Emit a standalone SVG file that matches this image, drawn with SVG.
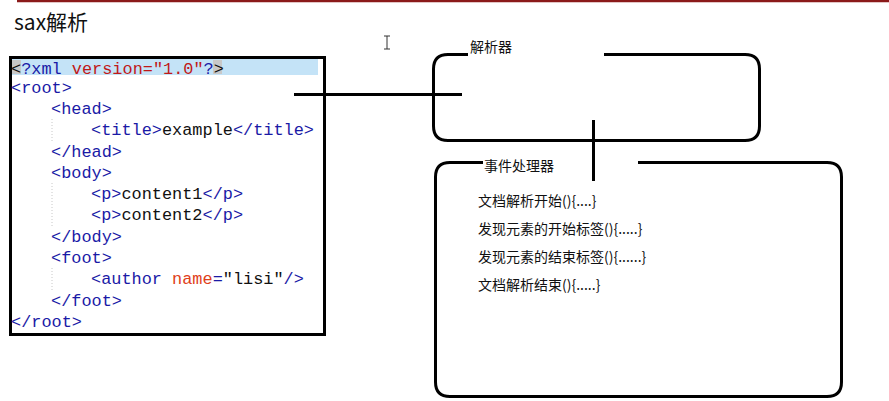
<svg xmlns="http://www.w3.org/2000/svg" width="889" height="401" viewBox="0 0 889 401">
<style>
.code{font-family:"Liberation Mono","DejaVu Sans Mono",monospace;font-size:16.9px;fill:#1a1aa6;white-space:pre}
.t{fill:#1a1aa6}.x{fill:#111}.a{fill:#e0401a}.v{fill:#c01818}
.lbl{font-family:"Noto Sans CJK SC","Noto Sans",sans-serif;font-size:14px;fill:#111}
.box{fill:none;stroke:#000;stroke-width:3}
.guide{stroke:#c8c8c8;stroke-width:1;stroke-dasharray:1 2}
</style>
<rect width="889" height="401" fill="#fff"/>
<line x1="17" y1="1" x2="889" y2="1" stroke="#8b1a1a" stroke-width="2.5"/>
<text x="14" y="30" font-family="'Noto Sans CJK SC','Noto Sans',sans-serif" font-size="21" fill="#111">sax解析</text>
<path d="M384,36 h6 M387,36 v13 M384,49 h6" stroke="#333" stroke-width="1" fill="none"/>
<g id="xml">
<rect x="10.5" y="57.5" width="314" height="277" class="box"/>
<rect x="12" y="59" width="306" height="16" fill="#c4e3f7"/>
<rect x="12" y="60" width="9" height="14" fill="#c8c8c8"/>
<rect x="213" y="60" width="9" height="14" fill="#c8c8c8"/>
<line x1="52" y1="119" x2="52" y2="142" class="guide"/>
<line x1="52" y1="183" x2="52" y2="227" class="guide"/>
<line x1="52" y1="268" x2="52" y2="291" class="guide"/>
<text class="code" x="11" y="74"><tspan class="x">&lt;</tspan>?xml <tspan class="v">version="1.0"</tspan>?<tspan class="x">&gt;</tspan></text>
<text class="code" x="11" y="93">&lt;root&gt;</text>
<text class="code" x="51" y="114">&lt;head&gt;</text>
<text class="code" x="91" y="135">&lt;title&gt;<tspan class="x">example</tspan>&lt;/title&gt;</text>
<text class="code" x="51" y="157">&lt;/head&gt;</text>
<text class="code" x="51" y="178">&lt;body&gt;</text>
<text class="code" x="91" y="199">&lt;p&gt;<tspan class="x">content1</tspan>&lt;/p&gt;</text>
<text class="code" x="91" y="220">&lt;p&gt;<tspan class="x">content2</tspan>&lt;/p&gt;</text>
<text class="code" x="51" y="242">&lt;/body&gt;</text>
<text class="code" x="51" y="263">&lt;foot&gt;</text>
<text class="code" x="91" y="284">&lt;author <tspan class="a">name</tspan>=<tspan class="x">"lisi"</tspan>/&gt;</text>
<text class="code" x="51" y="306">&lt;/foot&gt;</text>
<text class="code" x="11" y="327">&lt;/root&gt;</text>
</g>
<g id="parser">
<path class="box" d="M468,54.5 H448 Q433.5,54.5 433.5,69 V126 Q433.5,140.5 448,140.5 H745 Q759.5,140.5 759.5,126 V69 Q759.5,54.5 745,54.5 H604"/>
<text class="lbl" x="470" y="52">解析器</text>
</g>
<g id="handler">
<path class="box" d="M483,162.5 H450 Q435.5,162.5 435.5,177 V382 Q435.5,396.5 450,396.5 H827 Q841.5,396.5 841.5,382 V177 Q841.5,162.5 827,162.5 H638"/>
<text class="lbl" x="484" y="171" font-size="14.5">事件处理器</text>
<text class="lbl" x="478" y="206">文档解析开始(){....}</text>
<text class="lbl" x="478" y="234">发现元素的开始标签(){.....}</text>
<text class="lbl" x="478" y="262">发现元素的结束标签(){......}</text>
<text class="lbl" x="478" y="290">文档解析结束(){.....}</text>
</g>
<g id="connectors">
<line x1="294" y1="94.5" x2="462" y2="94.5" stroke="#000" stroke-width="3"/>
<line x1="593.5" y1="120" x2="593.5" y2="181" stroke="#000" stroke-width="3"/>
</g>
</svg>
